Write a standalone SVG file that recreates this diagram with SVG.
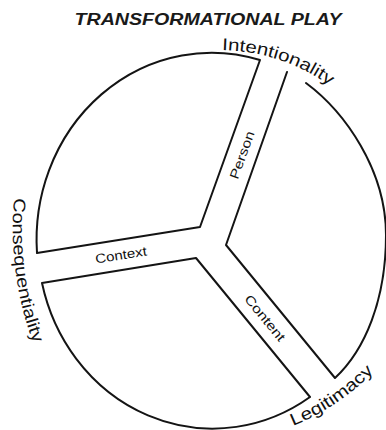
<svg xmlns="http://www.w3.org/2000/svg" width="386" height="430" viewBox="0 0 386 430">
<style>
.ln{fill:none;stroke:#141414;stroke-width:2;stroke-linejoin:round;stroke-linecap:round}
.lbl{font-family:"Liberation Sans","DejaVu Sans",sans-serif;fill:#111}
.outer{font-size:17px}
.inner{font-size:13px}
.title{font-family:"Liberation Sans","DejaVu Sans",sans-serif;font-size:16px;font-weight:bold;font-style:italic;fill:#1a1a1a}
</style>
<defs>
<path id="p-int" d="M 222 50 Q 290 52 340 94"/>
<path id="p-leg" d="M 293 426 Q 342 406 378 367"/>
<path id="p-con" d="M 14 198 C 10 250 16 300 36 350"/>
</defs>
<rect width="386" height="430" fill="#fff"/>
<text class="title" x="208" y="25" text-anchor="middle" textLength="267" lengthAdjust="spacingAndGlyphs">TRANSFORMATIONAL PLAY</text>
<g id="sector-person-context">
<path class="ln" d="M 37 253 A 175 187 0 0 1 260 60 L 200 227 Z"/>
</g>
<g id="sector-person-content">
<path class="ln" d="M 287 72 L 226 245 L 335 378 C 365 350 386 300 386 235 C 386 170 345 112 306 83"/>
</g>
<g id="sector-context-content">
<path class="ln" d="M 42 283 L 196 258 L 310 397 A 175 187 0 0 1 42 283 Z"/>
</g>
<g id="channel-labels">
<text class="lbl inner" transform="translate(242 155) rotate(-70)" x="0" y="4.5" text-anchor="middle" textLength="50" lengthAdjust="spacingAndGlyphs">Person</text>
<text class="lbl inner" transform="translate(121 255) rotate(-9)" x="0" y="4.5" text-anchor="middle" textLength="52" lengthAdjust="spacingAndGlyphs">Context</text>
<text class="lbl inner" transform="translate(265 318) rotate(50.6)" x="0" y="4.5" text-anchor="middle" textLength="56" lengthAdjust="spacingAndGlyphs">Content</text>
</g>
<g id="outer-labels">
<text class="lbl outer"><textPath href="#p-int" textLength="115" lengthAdjust="spacingAndGlyphs">Intentionality</textPath></text>
<text class="lbl outer"><textPath href="#p-leg" textLength="98" lengthAdjust="spacingAndGlyphs">Legitimacy</textPath></text>
<text class="lbl outer"><textPath href="#p-con" textLength="148" lengthAdjust="spacingAndGlyphs">Consequentiality</textPath></text>
</g>
</svg>
